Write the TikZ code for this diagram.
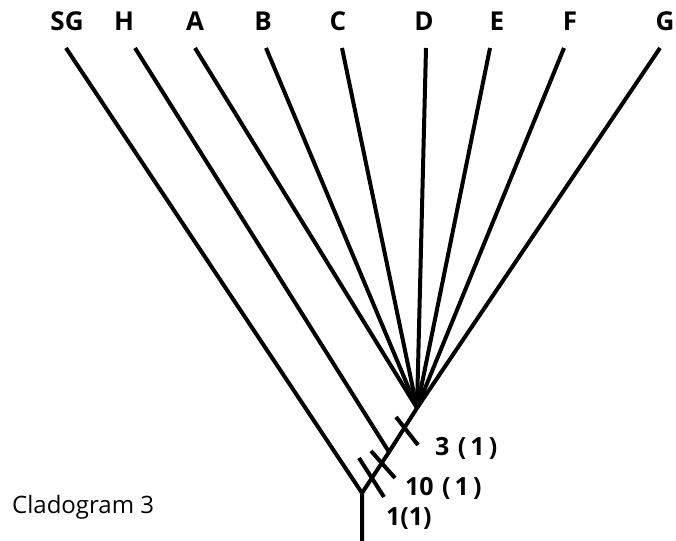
\documentclass[tikz,border=0pt]{standalone}
\usepackage{fontspec}
\setmainfont{Open Sans}
\begin{document}
\begin{tikzpicture}[x=1pt,y=-1pt,
  branch/.style={line width=4pt},
  tick/.style={line width=4pt},
  taxon/.style={font=\bfseries\fontsize{26}{26}\selectfont, inner sep=0pt, anchor=base},
  chr/.style={font=\bfseries\fontsize{25}{25}\selectfont, inner sep=0pt, anchor=base west},
  title/.style={font=\fontsize{24}{24}\selectfont, inner sep=0pt, anchor=base west}]
\useasboundingbox (0,0) rectangle (676,540);
% internal points
\coordinate (root) at (362,541);
\coordinate (n1) at (362,493);
\coordinate (n2) at (389,452);
\coordinate (n3) at (417,408);
% branch tips
\coordinate (tSG) at (66,48);
\coordinate (tH) at (135,48);
\coordinate (tA) at (195,48);
\coordinate (tB) at (266,48);
\coordinate (tC) at (342,48);
\coordinate (tD) at (426,48);
\coordinate (tE) at (490,48);
\coordinate (tF) at (564,48);
\coordinate (tG) at (660,48);
% taxon labels
\node[taxon] (lSG) at (67,31) {SG};
\node[taxon] (lH) at (124,31) {H};
\node[taxon] (lA) at (195,31) {A};
\node[taxon] (lB) at (263,31) {B};
\node[taxon] (lC) at (338,31) {C};
\node[taxon] (lD) at (424,31) {D};
\node[taxon] (lE) at (497,31) {E};
\node[taxon] (lF) at (570,31) {F};
\node[taxon] (lG) at (665,31) {G};
% tree
\draw[branch] (root) -- (n1) -- (n2) -- (n3);
\draw[branch] (n1) -- (tSG);
\draw[branch] (n2) -- (tH);
\foreach \t in {A,B,C,D,E,F,G} \draw[branch] (n3) -- (t\t);
% character ticks
\coordinate (k3a) at (396,417);
\coordinate (k3b) at (418,445);
\coordinate (k10a) at (371,451);
\coordinate (k10b) at (395,478);
\coordinate (k1a) at (359,458);
\coordinate (k1b) at (384,497);
\draw[tick] (k3a) -- (k3b);
\draw[tick] (k10a) -- (k10b);
\draw[tick] (k1a) -- (k1b);
% character labels
\node[chr] (c3) at (435,455) {3\,\,(\,1\,)};
\node[chr] (c10) at (405,495) {10\,\,(\,1\,)};
\node[chr] (c1) at (386,525) {1(1)};
\node[title] (ttl) at (12,513) {Cladogram 3};
\end{tikzpicture}
\end{document}
